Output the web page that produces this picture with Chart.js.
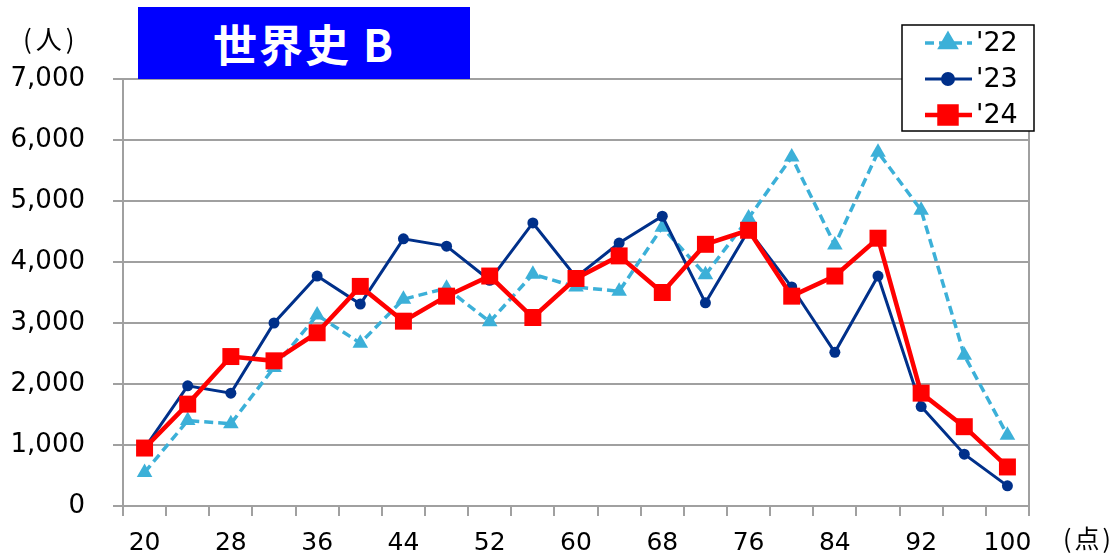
<!DOCTYPE html>
<html>
<head>
<meta charset="utf-8">
<script src="https://cdn.jsdelivr.net/npm/chart.js@4.4.1/dist/chart.umd.min.js"></script>
<style>
    body { margin: 0; background: #fff; }
    #wrap { position: relative; width: 1117px; height: 556px; }
    #titleBox {
        position: absolute; left: 138px; top: 7px; width: 332px; height: 72px;
        background: #0000ff; color: #fff; font-family: "Noto Sans CJK JP", sans-serif;
        font-weight: bold; font-size: 44px; line-height: 72px; text-align: center;
        letter-spacing: 2px;
    }
    .unit { position: absolute; font-family: "Noto Sans CJK JP", sans-serif; font-size: 26px; line-height: 30px; color: #000; white-space: nowrap; letter-spacing: 4px; }
</style>
</head>
<body>
<div id="wrap">
    <canvas id="chart" width="1117" height="556"></canvas>
    <div id="titleBox">世界史 B</div>
    <div class="unit" style="left:23px; top:23px;">(人)</div>
    <div class="unit" style="left:1063px; top:522px; font-size:25px; letter-spacing:3px;">(点)</div>
</div>
<script>
// score bins (x axis)
const scoreLabels = ["20", "24", "28", "32", "36", "40", "44", "48", "52", "56", "60",
    "64", "68", "72", "76", "80", "84", "88", "92", "96", "100"];

// number of students per bin
const values22 = [550, 1400, 1350, 2270, 3130, 2670, 3390, 3570, 3020, 3800, 3590,
    3520, 4570, 3790, 4720, 5720, 4280, 5800, 4850, 2470, 1160];
const values23 = [950, 1970, 1850, 3000, 3770, 3310, 4380, 4260, 3700, 4640, 3750,
    4310, 4750, 3330, 4520, 3590, 2520, 3770, 1630, 850, 330];
const values24 = [950, 1670, 2450, 2380, 2840, 3600, 3030, 3440, 3770, 3090, 3730,
    4100, 3500, 4290, 4520, 3440, 3770, 4390, 1850, 1300, 640];

const seriesNames = ["'22", "'23", "'24"];
const yTicks = [0, 1000, 2000, 3000, 4000, 5000, 6000, 7000];

const colors = {
    y22: "#3cb0d8",
    y23: "#00308a",
    y24: "#ff0000",
    grid: "#a0a0a0"
};

// plot border + custom legend box
const framePlugin = {
    id: "frame",
    beforeDatasetsDraw(chart) {
        const a = chart.chartArea;
        const ctx = chart.ctx;
        ctx.save();
        ctx.strokeStyle = colors.grid;
        ctx.lineWidth = 2;
        ctx.beginPath();
        ctx.moveTo(a.right, a.top);
        ctx.lineTo(a.right, a.bottom);
        ctx.stroke();
        ctx.restore();
    },
    afterDraw(chart) {
        const ctx = chart.ctx;
        ctx.save();
        ctx.fillStyle = "#fff";
        ctx.fillRect(902, 25, 132, 106);
        ctx.strokeStyle = "#000";
        ctx.lineWidth = 1.5;
        ctx.strokeRect(902, 25, 132, 106);

        const rows = [43, 79, 115];
        chart.data.datasets.forEach((ds, i) => {
            const y = rows[i];
            ctx.strokeStyle = ds.borderColor;
            ctx.lineWidth = ds.borderWidth;
            ctx.setLineDash(ds.borderDash || []);
            ctx.beginPath();
            ctx.moveTo(925, y);
            ctx.lineTo(972, y);
            ctx.stroke();
            ctx.setLineDash([]);
            Chart.helpers.drawPoint(ctx, {
                pointStyle: ds.pointStyle,
                radius: ds.pointRadius,
                borderWidth: 1
            }, 948, y);
            ctx.fillStyle = ds.borderColor;
            ctx.fill();
            ctx.fillStyle = "#000";
            ctx.font = "27px 'DejaVu Sans'";
            ctx.textBaseline = "middle";
            ctx.fillText(ds.label, 976, y + 1);
        });
        ctx.restore();
    }
};

new Chart(document.getElementById("chart"), {
    type: "line",
    data: {
        labels: scoreLabels,
        datasets: [
            {
                label: seriesNames[0],
                data: values22,
                borderColor: colors.y22,
                backgroundColor: colors.y22,
                borderWidth: 3.5,
                borderDash: [9, 5],
                pointStyle: "triangle",
                pointRadius: 9,
                pointBorderWidth: 0,
                order: 3
            },
            {
                label: seriesNames[1],
                data: values23,
                borderColor: colors.y23,
                backgroundColor: colors.y23,
                borderWidth: 3,
                pointStyle: "circle",
                pointRadius: 5.5,
                pointBorderWidth: 0,
                order: 2
            },
            {
                label: seriesNames[2],
                data: values24,
                borderColor: colors.y24,
                backgroundColor: colors.y24,
                borderWidth: 4.5,
                pointStyle: "rect",
                pointRadius: 12,
                pointBorderWidth: 0,
                order: 1
            }
        ]
    },
    options: {
        responsive: false,
        animation: false,
        layout: { padding: { left: 0, top: 79, right: 88, bottom: 0 } },
        plugins: {
            legend: { display: false },
            tooltip: { enabled: false }
        },
        scales: {
            x: {
                offset: true,
                grid: {
                    offset: true,
                    drawOnChartArea: false,
                    color: colors.grid,
                    lineWidth: 2,
                    tickLength: 10
                },
                border: { color: colors.grid, width: 2 },
                ticks: {
                    autoSkip: false,
                    maxRotation: 0,
                    padding: 12,
                    color: "#000",
                    font: { family: "DejaVu Sans", size: 25 },
                    callback: function (val, index) {
                        return index % 2 === 0 ? this.getLabelForValue(val) : "";
                    }
                },
                afterFit(scale) { scale.height = 50; }
            },
            y: {
                min: yTicks[0],
                max: yTicks[yTicks.length - 1],
                grid: {
                    color: colors.grid,
                    lineWidth: 2,
                    tickLength: 10
                },
                border: { color: colors.grid, width: 2 },
                ticks: {
                    stepSize: 1000,
                    padding: 28,
                    color: "#000",
                    font: { family: "DejaVu Sans", size: 26 },
                    callback: v => v.toLocaleString("en-US")
                },
                afterFit(scale) { scale.width = 123; }
            }
        }
    },
    plugins: [framePlugin]
});
</script>
</body>
</html>
